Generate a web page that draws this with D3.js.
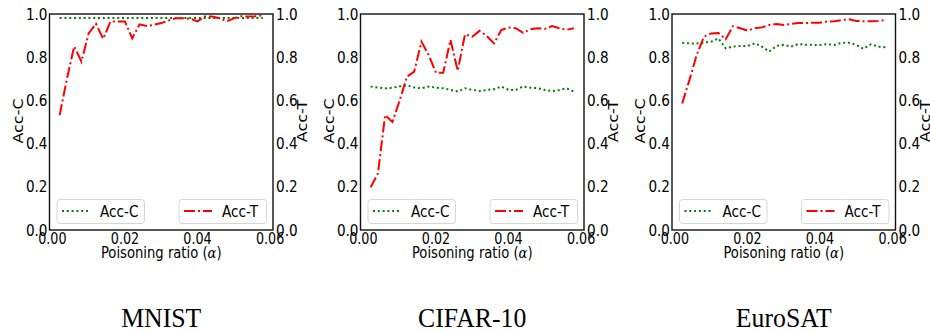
<!DOCTYPE html>
<html>
<head>
<meta charset="utf-8">
<script src="https://cdn.jsdelivr.net/npm/d3@7"></script>
<style>
  body { margin: 0; background: #fff; }
  svg { display: block; }
</style>
</head>
<body>
<svg id="chart" width="930" height="332"></svg>
<script>
// poisoning ratios (x values)
const ratios = [0.002, 0.004, 0.006, 0.008, 0.010, 0.012, 0.014, 0.016, 0.018, 0.020,
                0.022, 0.024, 0.026, 0.028, 0.030, 0.032, 0.034, 0.036, 0.038, 0.040,
                0.042, 0.044, 0.046, 0.048, 0.050, 0.052, 0.054, 0.056, 0.058];

const mnistAccC = [0.982, 0.982, 0.981, 0.982, 0.982, 0.981, 0.982, 0.982, 0.981, 0.982,
                   0.982, 0.981, 0.982, 0.982, 0.981, 0.982, 0.982, 0.981, 0.982, 0.982,
                   0.981, 0.982, 0.982, 0.981, 0.982, 0.982, 0.981, 0.982, 0.981];
const mnistAccT = [0.532, 0.70, 0.85, 0.78, 0.91, 0.955, 0.885, 0.965, 0.965, 0.965,
                   0.887, 0.952, 0.944, 0.95, 0.958, 0.97, 0.98, 0.98, 0.978, 0.966,
                   0.988, 0.988, 0.98, 0.966, 0.98, 0.99, 0.988, 0.99, 0.994];

const cifarAccC = [0.664, 0.659, 0.656, 0.659, 0.665, 0.670, 0.660, 0.656, 0.664, 0.659,
                   0.656, 0.649, 0.641, 0.656, 0.649, 0.644, 0.648, 0.652, 0.664, 0.649,
                   0.648, 0.665, 0.659, 0.657, 0.648, 0.643, 0.648, 0.656, 0.641];
const cifarAccT = [0.198, 0.262, 0.532, 0.50, 0.60, 0.71, 0.733, 0.872, 0.81, 0.728,
                   0.728, 0.88, 0.737, 0.906, 0.895, 0.922, 0.898, 0.864, 0.926, 0.937,
                   0.934, 0.913, 0.929, 0.934, 0.931, 0.944, 0.934, 0.927, 0.934];

const eurosatAccC = [0.867, 0.864, 0.864, 0.867, 0.872, 0.887, 0.841, 0.849, 0.852, 0.852,
                     0.864, 0.849, 0.826, 0.852, 0.857, 0.849, 0.861, 0.858, 0.857, 0.857,
                     0.860, 0.857, 0.867, 0.867, 0.857, 0.839, 0.860, 0.849, 0.846];
const eurosatAccT = [0.586, 0.694, 0.81, 0.895, 0.91, 0.912, 0.883, 0.944, 0.934, 0.923,
                     0.934, 0.938, 0.949, 0.954, 0.949, 0.954, 0.958, 0.958, 0.96, 0.96,
                     0.965, 0.966, 0.972, 0.976, 0.968, 0.966, 0.967, 0.968, 0.972];

const datasets = ["MNIST", "CIFAR-10", "EuroSAT"];
const xTicks = [0, 0.02, 0.04, 0.06];
const yTicks = [0, 0.2, 0.4, 0.6, 0.8, 1.0];

const panels = [
  { name: datasets[0], accC: mnistAccC, accT: mnistAccT, left: 49.5 },
  { name: datasets[1], accC: cifarAccC, accT: cifarAccT, left: 360.5 },
  { name: datasets[2], accC: eurosatAccC, accT: eurosatAccT, left: 672 }
];

const plotW = 223.5, plotTop = 14, plotBottom = 230;
const sx = 0.85;  // the figure looks squeezed horizontally
const sans = "DejaVu Sans";

const svg = d3.select("#chart");

function label(g, x, y, s, o = {}) {
  const rot = o.rotate || 0;
  const scl = rot ? `scale(1,${sx})` : `scale(${o.sx || sx},1)`;
  return g.append("text")
    .attr("transform", `translate(${x},${y}) rotate(${rot}) ${scl}`)
    .attr("text-anchor", o.anchor || "middle")
    .attr("font-family", o.family || sans)
    .attr("font-size", o.size || 15)
    .attr("fill", "#000")
    .text(s);
}

panels.forEach(p => {
  const x = d3.scaleLinear().domain([-0.0008, 0.0608]).range([p.left, p.left + plotW]);
  const y = d3.scaleLinear().domain([0, 1]).range([plotBottom, plotTop]);
  const g = svg.append("g");

  const line = d3.line()
    .x((d, i) => x(ratios[i]))
    .y(d => y(d));

  g.append("path")
    .datum(p.accC)
    .attr("fill", "none")
    .attr("stroke", "green")
    .attr("stroke-width", 2)
    .attr("stroke-dasharray", "2,2.8")
    .attr("d", line);

  g.append("path")
    .datum(p.accT)
    .attr("fill", "none")
    .attr("stroke", "red")
    .attr("stroke-width", 2)
    .attr("stroke-dasharray", "11,3,2,3")
    .attr("d", line);

  // legends
  const lx1 = p.left + 7.5, lx2 = p.left + plotW - 94;
  [[lx1, "Acc-C", "green", "2,2.8"], [lx2, "Acc-T", "red", "11,3,2,3"]].forEach(([lx, t, c, dash]) => {
    g.append("rect")
      .attr("x", lx).attr("y", 199.5)
      .attr("width", 87.5).attr("height", 24)
      .attr("rx", 3)
      .attr("fill", "#fff").attr("fill-opacity", 0.8)
      .attr("stroke", "#d6d6d6").attr("stroke-width", 1);
    g.append("line")
      .attr("x1", lx + 5).attr("x2", lx + 33)
      .attr("y1", 211).attr("y2", 211)
      .attr("stroke", c).attr("stroke-width", 2)
      .attr("stroke-dasharray", dash);
    label(g, lx + 43, 216.5, t, { anchor: "start", size: 16 });
  });

  // frame
  g.append("rect")
    .attr("x", p.left).attr("y", plotTop)
    .attr("width", plotW).attr("height", plotBottom - plotTop)
    .attr("fill", "none")
    .attr("stroke", "#111").attr("stroke-width", 1.4);

  // tick labels
  yTicks.forEach(v => {
    label(g, p.left - 2, y(v) + 5.5, v.toFixed(1), { anchor: "end", size: 16 });
    label(g, p.left + plotW + 3, y(v) + 5.5, v.toFixed(1), { anchor: "start", size: 16 });
  });
  xTicks.forEach(v => {
    label(g, x(v), 243.5, v.toFixed(2), { size: 15 });
  });

  // axis titles
  const cx = p.left + plotW / 2;
  const xt = label(g, cx, 258, "Poisoning ratio (", { size: 15.5 });
  xt.append("tspan").attr("font-style", "italic").attr("font-family", "DejaVu Serif").text("α");
  xt.append("tspan").text(")");
  label(g, p.left - 27, 121, "Acc-C", { rotate: -90, size: 16 });
  label(g, p.left + plotW + 34, 121, "Acc-T", { rotate: -90, size: 16 });

  // dataset caption
  label(g, cx, 327, p.name, { family: "Liberation Serif", size: 28, sx: 0.92 });
});
</script>
</body>
</html>
